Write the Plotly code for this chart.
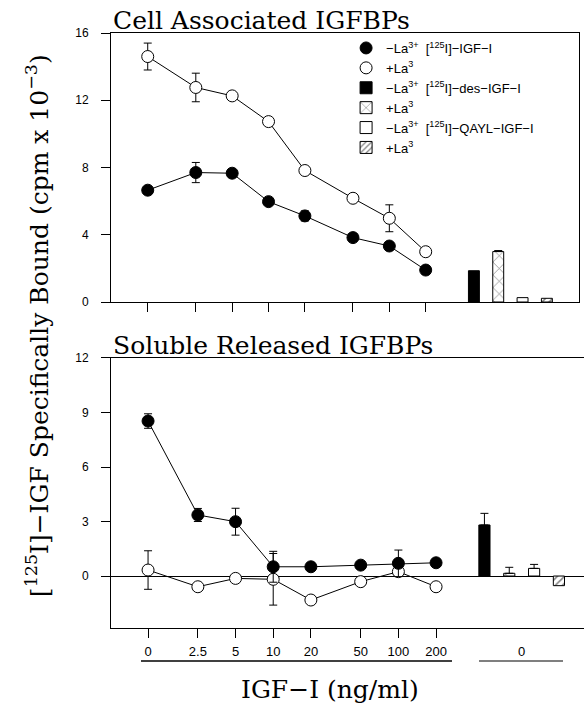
import plotly.graph_objects as go

# ---------------- data ----------------
conc_labels = ['0', '2.5', '5', '10', '20', '50', '100', '200']
conc = [0, 2.5, 5, 10, 20, 50, 100, 200]

cell_minus = [6.65, 7.70, 7.66, 5.97, 5.12, 3.83, 3.33, 1.90]
cell_minus_err = [0, 0.6, 0, 0, 0.3, 0, 0, 0]
cell_plus = [14.6, 12.76, 12.26, 10.73, 7.82, 6.17, 4.98, 2.99]
cell_plus_err = [0.8, 0.85, 0, 0, 0, 0, 0.8, 0]

sol_minus = [8.53, 3.36, 2.99, 0.51, 0.51, 0.60, 0.70, 0.73]
sol_minus_err = [0.4, 0.36, 0.74, 0.85, 0, 0, 0.73, 0]
sol_plus = [0.33, -0.59, -0.13, -0.18, -1.32, -0.31, 0.24, -0.59]
sol_plus_err = [1.06, 0, 0, 1.42, 0, 0, 0.2, 0]

bar_conditions = ['des -La', 'des +La', 'QAYL -La', 'QAYL +La']
bar_cell = [1.86, 3.0, 0.26, 0.22]
bar_cell_err = [0, 0.06, 0, 0]
bar_sol = [2.81, 0.15, 0.42, -0.53]
bar_sol_err = [0.64, 0.33, 0.22, 0]

legend_names = [
    "\u2212La<sup>3+</sup>\u00a0\u00a0[<sup>125</sup>I]\u2212IGF\u2212I",
    "+La<sup>3</sup>",
    "\u2212La<sup>3+</sup>\u00a0\u00a0[<sup>125</sup>I]\u2212des\u2212IGF\u2212I",
    "+La<sup>3</sup>",
    "\u2212La<sup>3+</sup>\u00a0\u00a0[<sup>125</sup>I]\u2212QAYL\u2212IGF\u2212I",
    "+La<sup>3</sup>",
]

# zero dose is drawn at the axis-break position (1 on the log dose axis)
xplot = [c if c > 0 else 1 for c in conc]

SERIF = "DejaVu Serif"
SANS = "Liberation Sans"

fig = go.Figure()

def err(arr):
    return dict(type='data', array=arr, visible=True, color='black', thickness=1, width=4)

for ys, xa, ya in [(cell_minus, 'x', 'y'), (cell_plus, 'x', 'y'),
                   (sol_minus, 'x2', 'y2'), (sol_plus, 'x2', 'y2')]:
    fig.add_trace(go.Scatter(x=xplot, y=ys, mode='lines', line=dict(color='black', width=1),
                             xaxis=xa, yaxis=ya, showlegend=False, hoverinfo='skip'))

fig.add_trace(go.Scatter(x=xplot, y=cell_minus, mode='markers', name=legend_names[0],
                         marker=dict(size=12, color='black', line=dict(color='black', width=1)),
                         error_y=err(cell_minus_err), xaxis='x', yaxis='y', legendrank=1))
fig.add_trace(go.Scatter(x=xplot, y=cell_plus, mode='markers', name=legend_names[1],
                         marker=dict(size=12, color='white', line=dict(color='black', width=1)),
                         error_y=err(cell_plus_err), xaxis='x', yaxis='y', legendrank=2))
fig.add_trace(go.Scatter(x=xplot, y=sol_plus, mode='markers', showlegend=False,
                         marker=dict(size=12, color='white', line=dict(color='black', width=1)),
                         error_y=err(sol_plus_err), xaxis='x2', yaxis='y2'))
fig.add_trace(go.Scatter(x=xplot, y=sol_minus, mode='markers', showlegend=False,
                         marker=dict(size=12, color='black', line=dict(color='black', width=1)),
                         error_y=err(sol_minus_err), xaxis='x2', yaxis='y2'))

bar_styles = [
    dict(color='black'),
    dict(color='white', pattern=dict(shape='x', fgcolor='black', bgcolor='white', size=9, solidity=0.15)),
    dict(color='white'),
    dict(color='white', pattern=dict(shape='/', fgcolor='black', bgcolor='white', size=5, solidity=0.3)),
]

for i, cond in enumerate(bar_conditions):
    st = dict(bar_styles[i])
    st['line'] = dict(color='black', width=1)
    fig.add_trace(go.Bar(x=[cond], y=[bar_cell[i]], width=0.45, marker=st,
                         error_y=dict(type='data', array=[bar_cell_err[i]], arrayminus=[0], symmetric=False,
                                      color='black', thickness=1, width=4, visible=bar_cell_err[i] > 0),
                         xaxis='x3', yaxis='y', name=legend_names[2 + i], legendrank=3 + i))
    fig.add_trace(go.Bar(x=[cond], y=[bar_sol[i]], width=0.45, marker=st,
                         error_y=dict(type='data', array=[bar_sol_err[i]], arrayminus=[0], symmetric=False,
                                      color='black', thickness=1, width=4, visible=bar_sol_err[i] > 0),
                         xaxis='x4', yaxis='y2', showlegend=False))

tickfont = dict(family=SANS, size=12, color='black')
top_dom = [0.5479, 1.0]
bot_dom = [0.0, 0.4538]
top_xdom = [0.0, 0.9894]
top_xrange = [-0.304, 3.570]
bot_xrange = [-0.296, 3.483]
top_yrange = [0, 16]
bot_yrange = [-2.86, 12]

base = dict(showgrid=False, zeroline=False, tickcolor='black', tickwidth=1)

fig.update_layout(
    width=584, height=704,
    margin=dict(l=111, r=0, t=33, b=76),
    paper_bgcolor='white', plot_bgcolor='white',
    barmode='overlay',
    showlegend=True,
    legend=dict(x=0.497, y=1.0, xanchor='left', yanchor='top', bgcolor='rgba(0,0,0,0)',
                font=dict(family=SANS, size=13, color='black'), tracegroupgap=0, itemwidth=30),
    xaxis=dict(base, domain=top_xdom, anchor='y', type='log', range=top_xrange, tickmode='array',
               tickvals=xplot, showticklabels=False, ticks='outside', ticklen=9,
               showline=True, linecolor='black', linewidth=1, mirror=True),
    xaxis5=dict(base, overlaying='x', anchor='y', type='log', range=top_xrange, tickmode='array',
                tickvals=xplot, showticklabels=False, ticks='inside', ticklen=9, showline=False),
    xaxis3=dict(overlaying='x', anchor='y', type='category', categoryorder='array',
                categoryarray=bar_conditions, range=[-14.92, 4.32], visible=False),
    xaxis2=dict(base, domain=[0, 1], anchor='y2', type='log', range=bot_xrange, tickmode='array',
                tickvals=xplot, ticktext=conc_labels, tickfont=dict(family=SANS, size=13, color='black'),
                ticks='outside', ticklen=9, ticklabelstandoff=2,
                showline=True, linecolor='black', linewidth=1, mirror=True),
    xaxis6=dict(base, overlaying='x2', anchor='y2', type='log', range=bot_xrange, tickmode='array',
                tickvals=xplot, showticklabels=False, ticks='inside', ticklen=8, showline=False),
    xaxis4=dict(overlaying='x2', anchor='y2', type='category', categoryorder='array',
                categoryarray=bar_conditions, range=[-15.04, 4.01], visible=False),
    yaxis=dict(base, domain=top_dom, anchor='x', range=top_yrange, tickmode='array',
               tickvals=[0, 4, 8, 12, 16], tickfont=tickfont, ticks='outside', ticklen=9,
               ticklabelstandoff=10,
               showline=True, linecolor='black', linewidth=1, mirror=True),
    yaxis5=dict(base, overlaying='y', anchor='x', side='left', range=top_yrange, tickmode='array',
                tickvals=[0, 4, 8, 12, 16], showticklabels=False, ticks='inside', ticklen=9, showline=False),
    yaxis3=dict(base, overlaying='y', anchor='x', side='right', range=top_yrange, tickmode='array',
                tickvals=[4, 8, 12], showticklabels=False, ticks='inside', ticklen=10, showline=False),
    yaxis2=dict(showgrid=False, tickcolor='black', tickwidth=1, domain=bot_dom, anchor='x2',
                range=bot_yrange, tickmode='array', tickvals=[0, 3, 6, 9, 12], tickfont=tickfont,
                ticks='outside', ticklen=9, ticklabelstandoff=10,
                showline=True, linecolor='black', linewidth=1, mirror=True,
                zeroline=True, zerolinecolor='black', zerolinewidth=1),
    yaxis6=dict(base, overlaying='y2', anchor='x2', side='left', range=bot_yrange, tickmode='array',
                tickvals=[3, 6, 9, 12], showticklabels=False, ticks='inside', ticklen=9, showline=False),
    yaxis4=dict(base, overlaying='y2', anchor='x2', side='right', range=bot_yrange, tickmode='array',
                tickvals=[3, 6, 9], showticklabels=False, ticks='inside', ticklen=10, showline=False),
)

title_font = dict(family=SERIF, size=25, color='black')
fig.add_annotation(text="Cell Associated IGFBPs", xref='paper', yref='paper', x=0, y=top_dom[1],
                   xanchor='left', yanchor='bottom', showarrow=False, font=title_font, yshift=-4)
fig.add_annotation(text="Soluble Released IGFBPs", xref='paper', yref='paper', x=0, y=bot_dom[1],
                   xanchor='left', yanchor='bottom', showarrow=False, font=title_font, yshift=-4)
fig.add_annotation(text="IGF\u2212I (ng/ml)", xref='paper', yref='paper', x=0.463, y=-0.104,
                   xanchor='center', yanchor='middle', showarrow=False, font=title_font)
fig.add_annotation(text="[<sup>125</sup>I]\u2212IGF Specifically Bound (cpm x 10<sup>\u22123</sup>)",
                   xref='paper', yref='paper', x=-0.154, y=0.5076, textangle=-90,
                   xanchor='center', yanchor='middle', showarrow=False,
                   font=dict(family=SERIF, size=25, color='black'))
fig.add_annotation(text="0", xref='x4', yref='paper', x=1.5, y=-0.0403, xanchor='center',
                   yanchor='middle', showarrow=False, font=dict(family=SANS, size=13, color='black'))
fig.add_shape(type='line', xref='paper', yref='paper', x0=0.0634, x1=0.7209, y0=-0.0555, y1=-0.0555,
              line=dict(color='black', width=1.5))
fig.add_shape(type='line', xref='paper', yref='paper', x0=0.778, x1=0.9556, y0=-0.0555, y1=-0.0555,
              line=dict(color='black', width=1.2))

fig.write_html("out.html", config={'displayModeBar': False},
               post_script="document.body.style.margin='0';")
